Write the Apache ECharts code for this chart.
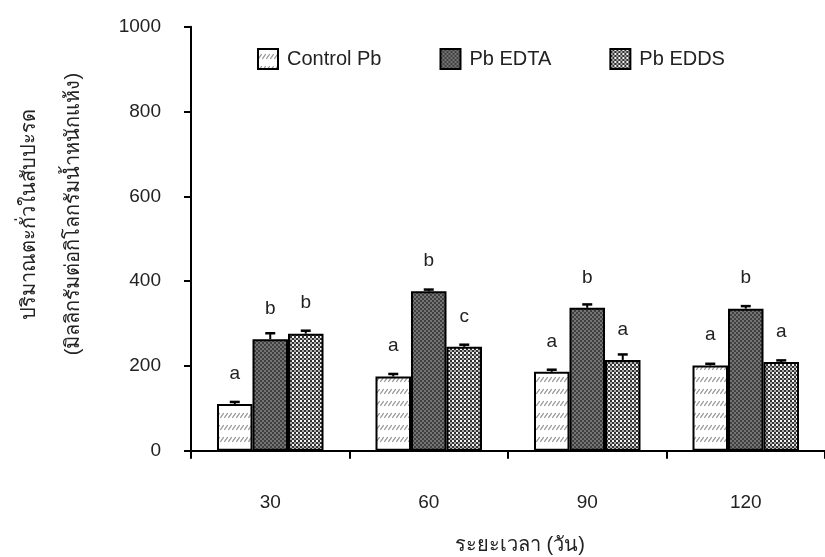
<!DOCTYPE html>
<html>
<head>
<meta charset="utf-8">
<script src="https://cdn.jsdelivr.net/npm/echarts@6/dist/echarts.min.js"></script>
<style>
html,body{margin:0;padding:0;background:#fff;}
#chart{width:825px;height:557px;}
</style>
</head>
<body>
<div id="chart"></div>
<script>
// ---- data ----
const categories = ['30', '60', '90', '120'];
const seriesNames = ['Control Pb', 'Pb EDTA', 'Pb EDDS'];
const controlPb = [110, 175, 186, 201];
const pbEDTA = [263, 376, 337, 335];
const pbEDDS = [276, 245, 214, 209];
const controlErr = [5, 6, 5, 4];
const edtaErr = [14, 4, 8, 6];
const eddsErr = [7, 5, 13, 4];
const controlLetters = ['a', 'a', 'a', 'a'];
const edtaLetters = ['b', 'b', 'b', 'b'];
const eddsLetters = ['b', 'c', 'a', 'a'];
const yTicks = { min: 0, max: 1000, interval: 200 };
const xAxisTitle = 'ระยะเวลา (วัน)';
const yAxisTitle1 = 'ปริมาณตะกั่วในสับปะรด';
const yAxisTitle2 = '(มิลลิกรัมต่อกิโลกรัมน้ำหนักแห้ง)';

// ---- patterns ----
function makeTile(w, h, draw) {
  const c = document.createElement('canvas');
  c.width = w; c.height = h;
  const ctx = c.getContext('2d');
  draw(ctx, w, h);
  return c;
}
const hatchTile = makeTile(4, 12, (ctx, w, h) => {
  ctx.fillStyle = '#ffffff'; ctx.fillRect(0, 0, w, h);
  ctx.strokeStyle = '#9a9a9a'; ctx.lineWidth = 1.3;
  ctx.beginPath(); ctx.moveTo(0.3, 10); ctx.lineTo(3.7, 5); ctx.stroke();
});
const edtaTile = makeTile(4, 4, (ctx, w, h) => {
  ctx.fillStyle = '#747474'; ctx.fillRect(0, 0, w, h);
  ctx.fillStyle = '#404040';
  ctx.fillRect(0, 0, 2, 2); ctx.fillRect(2, 2, 2, 2);
});
const eddsTile = makeTile(4, 4, (ctx, w, h) => {
  ctx.fillStyle = '#333333'; ctx.fillRect(0, 0, w, h);
  ctx.fillStyle = '#f4f4f4'; ctx.fillRect(0, 0, 2, 2);
  ctx.fillStyle = '#a8a8a8'; ctx.fillRect(2, 2, 2, 2);
});
const fills = [
  { image: hatchTile, repeat: 'repeat' },
  { image: edtaTile, repeat: 'repeat' },
  { image: eddsTile, repeat: 'repeat' }
];

const FONT = '"Liberation Sans", Arial, "DejaVu Sans", sans-serif';
const TXT = '#222222';
const BAR_W = 35.5;
const values = [controlPb, pbEDTA, pbEDDS];
const errs = [controlErr, edtaErr, eddsErr];
const letters = [controlLetters, edtaLetters, eddsLetters];

const barSeries = values.map((vals, s) => ({
  name: seriesNames[s],
  type: 'bar',
  barWidth: BAR_W,
  barGap: '0%',
  data: vals,
  itemStyle: { color: fills[s], borderColor: '#000', borderWidth: 2 },
  label: {
    show: true, position: 'top', distance: 21,
    fontFamily: FONT, fontSize: 19, color: TXT,
    formatter: p => letters[s][p.dataIndex]
  },
  z: 2
}));

const errSeries = values.map((vals, s) => ({
  type: 'custom',
  name: seriesNames[s] + ' err',
  data: vals.map((v, i) => [i, v, errs[s][i]]),
  encode: { x: 0, y: 1 },
  z: 5,
  silent: true,
  renderItem: (params, api) => {
    const off = (s - 1) * BAR_W;
    const base = api.coord([api.value(0), api.value(1)]);
    const top = api.coord([api.value(0), api.value(1) + api.value(2)]);
    const x = base[0] + off;
    return {
      type: 'group',
      children: [
        { type: 'line', shape: { x1: x, y1: base[1], x2: x, y2: top[1] }, style: { stroke: '#000', lineWidth: 2 } },
        { type: 'line', shape: { x1: x - 5, y1: top[1], x2: x + 5, y2: top[1] }, style: { stroke: '#000', lineWidth: 2.5 } }
      ]
    };
  }
}));

const chart = echarts.init(document.getElementById('chart'), null, { renderer: 'canvas' });
chart.setOption({
  backgroundColor: '#ffffff',
  animation: false,
  grid: { left: 191, top: 26.7, width: 640, height: 424, containLabel: false },
  legend: {
    data: seriesNames,
    left: 257, top: 48, padding: 0,
    itemWidth: 20, itemHeight: 20, itemGap: 58,
    icon: 'rect',
    textStyle: { fontFamily: FONT, fontSize: 20, color: TXT, padding: [0, 0, 0, 4] }
  },
  xAxis: {
    type: 'category',
    data: categories,
    boundaryGap: true,
    axisLine: { lineStyle: { color: '#000', width: 2 } },
    axisTick: { show: true, inside: false, length: 8, alignWithLabel: false, lineStyle: { color: '#000', width: 2 } },
    axisLabel: { margin: 43, fontFamily: FONT, fontSize: 19, color: TXT },
    splitLine: { show: false }
  },
  yAxis: {
    type: 'value',
    min: yTicks.min, max: yTicks.max, interval: yTicks.interval,
    axisLine: { show: true, lineStyle: { color: '#000', width: 2 } },
    axisTick: { show: true, inside: false, length: 7, lineStyle: { color: '#000', width: 2 } },
    axisLabel: { margin: 30, fontFamily: FONT, fontSize: 19, color: TXT, formatter: v => String(v) },
    splitLine: { show: false }
  },
  graphic: [
    { type: 'text', x: 520, y: 545,
      style: { text: xAxisTitle, fontFamily: FONT, fontSize: 20, fill: TXT, textAlign: 'center', textVerticalAlign: 'middle' } },
    { type: 'text', x: 29, y: 214, rotation: Math.PI / 2,
      style: { text: yAxisTitle1, fontFamily: FONT, fontSize: 20, fill: TXT, textAlign: 'center', textVerticalAlign: 'middle' } },
    { type: 'text', x: 73, y: 214, rotation: Math.PI / 2,
      style: { text: yAxisTitle2, fontFamily: FONT, fontSize: 20, fill: TXT, textAlign: 'center', textVerticalAlign: 'middle' } }
  ],
  series: [...barSeries, ...errSeries]
});
</script>
</body>
</html>
